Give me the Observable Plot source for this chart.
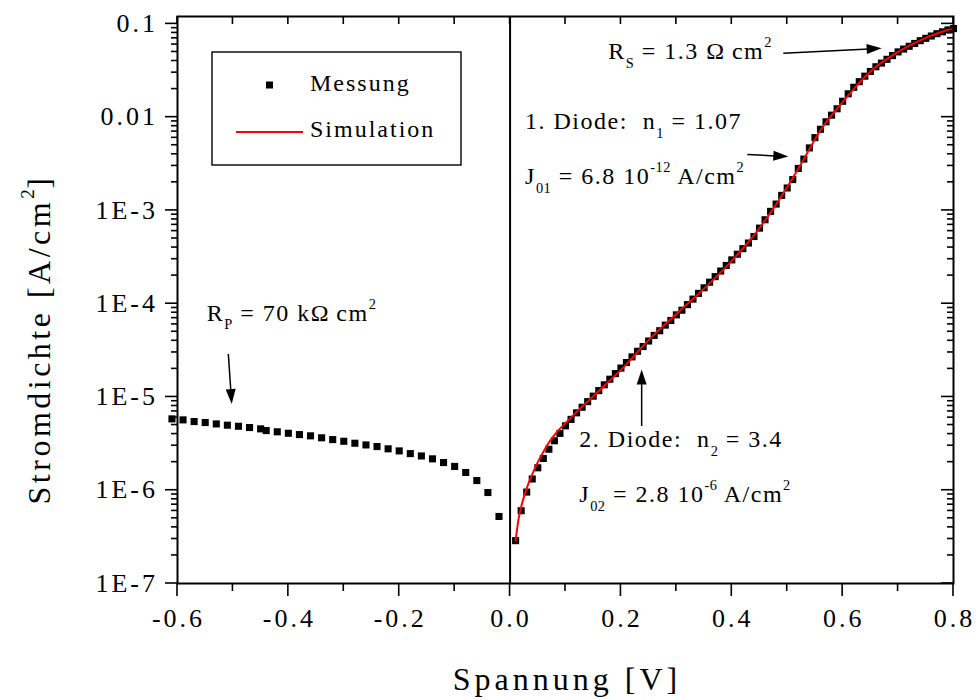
<!DOCTYPE html>
<html>
<head>
<meta charset="utf-8">
<script src="https://cdn.jsdelivr.net/npm/d3@7"></script>
<script src="https://cdn.jsdelivr.net/npm/@observablehq/plot@0.6"></script>
<style>
  body { margin: 0; background: #fff; }
  #chart svg { display: block; background: #fff; }
</style>
</head>
<body>
<div id="chart"></div>
<script>
// Dark I–V characteristic of a solar cell: measured current density (squares)
// and two-diode model fit (red line).

// Reverse bias branch (absolute current density)
const reverseVoltage = [-0.61, -0.59, -0.57, -0.55, -0.53, -0.51, -0.49, -0.47, -0.45, -0.44,
  -0.42, -0.40, -0.38, -0.36, -0.34, -0.32, -0.30, -0.28, -0.26, -0.24,
  -0.22, -0.20, -0.18, -0.16, -0.14, -0.12, -0.10, -0.08, -0.06, -0.04, -0.02];
const reverseCurrent = [5.82e-6, 5.68e-6, 5.45e-6, 5.32e-6, 5.14e-6, 4.98e-6, 4.85e-6, 4.70e-6, 4.55e-6, 4.36e-6,
  4.23e-6, 4.08e-6, 3.95e-6, 3.83e-6, 3.65e-6, 3.49e-6, 3.35e-6, 3.19e-6, 3.06e-6, 2.94e-6,
  2.78e-6, 2.64e-6, 2.47e-6, 2.33e-6, 2.17e-6, 1.98e-6, 1.80e-6, 1.55e-6, 1.27e-6, 9.45e-7, 5.23e-7];

// Forward bias branch
const forwardVoltage = [0.01, 0.02, 0.03, 0.04, 0.05, 0.06, 0.07, 0.08, 0.09, 0.10,
  0.11, 0.12, 0.13, 0.14, 0.15, 0.16, 0.17, 0.18, 0.19, 0.20,
  0.21, 0.22, 0.23, 0.24, 0.25, 0.26, 0.27, 0.28, 0.29, 0.30,
  0.31, 0.32, 0.33, 0.34, 0.35, 0.36, 0.37, 0.38, 0.39, 0.40,
  0.41, 0.42, 0.43, 0.44, 0.45, 0.46, 0.47, 0.48, 0.49, 0.50,
  0.51, 0.52, 0.53, 0.54, 0.55, 0.56, 0.57, 0.58, 0.59, 0.60,
  0.61, 0.62, 0.63, 0.64, 0.65, 0.66, 0.67, 0.68, 0.69, 0.70,
  0.71, 0.72, 0.73, 0.74, 0.75, 0.76, 0.77, 0.78, 0.79, 0.80];
const forwardCurrent = [2.88e-7, 6.03e-7, 9.55e-7, 1.32e-6, 1.74e-6, 2.19e-6, 2.75e-6, 3.39e-6, 4.07e-6, 4.90e-6,
  5.75e-6, 6.76e-6, 7.76e-6, 8.91e-6, 1.02e-5, 1.17e-5, 1.35e-5, 1.55e-5, 1.78e-5, 2.04e-5,
  2.34e-5, 2.69e-5, 3.09e-5, 3.47e-5, 3.98e-5, 4.57e-5, 5.13e-5, 5.89e-5, 6.61e-5, 7.59e-5,
  8.51e-5, 9.77e-5, 1.12e-4, 1.29e-4, 1.48e-4, 1.70e-4, 1.95e-4, 2.24e-4, 2.57e-4, 2.95e-4,
  3.39e-4, 3.89e-4, 4.47e-4, 5.25e-4, 6.46e-4, 7.94e-4, 9.77e-4, 1.17e-3, 1.45e-3, 1.74e-3,
  2.14e-3, 2.82e-3, 3.55e-3, 4.68e-3, 6.03e-3, 7.41e-3, 8.91e-3, 1.05e-2, 1.23e-2, 1.48e-2,
  1.78e-2, 2.09e-2, 2.40e-2, 2.75e-2, 3.09e-2, 3.47e-2, 3.80e-2, 4.17e-2, 4.57e-2, 5.01e-2,
  5.37e-2, 5.75e-2, 6.17e-2, 6.61e-2, 7.00e-2, 7.41e-2, 7.85e-2, 8.22e-2, 8.61e-2, 8.91e-2];

// Two-diode simulation
const simVoltage = [0.01, 0.015, 0.02, 0.03, 0.04, 0.05, 0.06, 0.07, 0.08, 0.09,
  0.10, 0.12, 0.14, 0.17, 0.20, 0.25, 0.30, 0.35, 0.40, 0.45,
  0.50, 0.53, 0.56, 0.60, 0.65, 0.70, 0.75, 0.80];
const simCurrent = [2.88e-7, 4.79e-7, 6.61e-7, 1.05e-6, 1.48e-6, 2.00e-6, 2.57e-6, 3.24e-6, 3.89e-6, 4.57e-6,
  5.25e-6, 6.92e-6, 8.91e-6, 1.32e-5, 1.95e-5, 4.07e-5, 7.76e-5, 1.45e-4, 2.88e-4, 6.46e-4,
  1.78e-3, 3.55e-3, 7.24e-3, 1.45e-2, 3.09e-2, 5.01e-2, 7.08e-2, 9.02e-2];

// Axis ticks
const xTicks = [-0.6, -0.4, -0.2, 0.0, 0.2, 0.4, 0.6, 0.8];
const xTickLabels = ["-0.6", "-0.4", "-0.2", "0.0", "0.2", "0.4", "0.6", "0.8"];
const xMinorTicks = [-0.5, -0.3, -0.1, 0.1, 0.3, 0.5, 0.7];
const yTicks = [1e-7, 1e-6, 1e-5, 1e-4, 1e-3, 1e-2, 1e-1];
const yTickLabels = ["1E-7", "1E-6", "1E-5", "1E-4", "1E-3", "0.01", "0.1"];

const xTitle = "Spannung [V]";
const yTitleParts = [["Stromdichte [A/cm"], ["2", "sup"], ["]"]];
const legendLabels = ["Messung", "Simulation"];

// Fit-parameter annotations (anchored in data coordinates)
const notes = [
  {x: 0.178, y: 0.0415, parts: [["R"], ["S", "sub"], [" = 1.3 Ω\u2009cm"], ["2", "sup"]]},
  {x: 0.0279, y: 7.38e-3, parts: [["1. Diode:  n"], ["1", "sub"], [" = 1.07"]]},
  {x: 0.0279, y: 1.90e-3, parts: [["J"], ["01", "sub"], [" = 6.8 10"], ["-12", "sup"], [" A/cm"], ["2", "sup"]]},
  {x: -0.5465, y: 6.5e-5, parts: [["R"], ["P", "sub"], [" = 70 kΩ\u2009cm"], ["2", "sup"]]},
  {x: 0.1258, y: 2.85e-6, parts: [["2. Diode:  n"], ["2", "sub"], [" = 3.4"]]},
  {x: 0.1258, y: 7.33e-7, parts: [["J"], ["02", "sub"], [" = 2.8 10"], ["-6", "sup"], [" A/cm"], ["2", "sup"]]}
];
const arrows = [
  {x1: 0.4938, y1: 0.0478, x2: 0.6713, y2: 0.0541},
  {x1: 0.4289, y1: 3.94e-3, x2: 0.5029, y2: 3.73e-3},
  {x1: -0.5074, y1: 2.85e-5, x2: -0.5013, y2: 8.30e-6},
  {x1: 0.2383, y1: 4.82e-6, x2: 0.2383, y2: 1.95e-5}
];

const measured = [
  ...reverseVoltage.map((v, i) => ({v, j: reverseCurrent[i]})),
  ...forwardVoltage.map((v, i) => ({v, j: forwardCurrent[i]}))
];
const simulated = simVoltage.map((v, i) => ({v, j: simCurrent[i]}));

const SERIF = '"Liberation Serif", "Times New Roman", serif';

// Append text made of normal / subscript / superscript runs as tspans.
function richText(text, parts, fs, ls) {
  let shift = 0;
  for (const [t, role] of parts) {
    const target = role === "sub" ? 0.36 * fs : role === "sup" ? -0.5 * fs : 0;
    text.append("tspan")
      .attr("dy", target - shift)
      .attr("font-size", role ? 0.6 * fs : fs)
      .attr("letter-spacing", role ? 0.5 : ls)
      .text(t);
    shift = target;
  }
}

// Frame ticks, tick labels and axis titles
function axesMark(index, scales, values, dim) {
  const {x, y} = scales;
  const left = dim.marginLeft, right = dim.width - dim.marginRight;
  const top = dim.marginTop, bottom = dim.height - dim.marginBottom;
  const g = d3.create("svg:g");
  const ticks = g.append("g").attr("stroke", "#000").attr("stroke-width", 1.6).attr("fill", "none");
  const line = (x1, y1, x2, y2) => ticks.append("line").attr("x1", x1).attr("y1", y1).attr("x2", x2).attr("y2", y2);

  for (const v of xTicks) { line(x(v), bottom, x(v), bottom + 13); line(x(v), top, x(v), top + 8); }
  for (const v of xMinorTicks) { line(x(v), bottom, x(v), bottom + 8); line(x(v), top, x(v), top + 8); }

  for (let e = -7; e <= -1; e++) {
    const d = Math.pow(10, e);
    line(left - 12, y(d), left, y(d));
    line(right - 12, y(d), right, y(d));
    for (let k = 2; k <= 9; k++) {
      const m = k * d;
      if (m > 0.12) continue;
      line(left - 6, y(m), left, y(m));
      line(right - 6, y(m), right, y(m));
    }
  }

  const labels = g.append("g").attr("font-family", SERIF).attr("fill", "#000");
  const fs = 26, ls = 3;
  xTicks.forEach((v, i) => {
    labels.append("text").attr("x", x(v) + ls / 2).attr("y", bottom + 44)
      .attr("text-anchor", "middle").attr("font-size", fs).attr("letter-spacing", ls)
      .text(xTickLabels[i]);
  });
  yTicks.forEach((v, i) => {
    labels.append("text").attr("x", left - 22 + ls).attr("y", y(v)).attr("dy", "0.33em")
      .attr("text-anchor", "end").attr("font-size", fs).attr("letter-spacing", ls)
      .text(yTickLabels[i]);
  });

  labels.append("text").attr("x", (left + right) / 2 + 2).attr("y", dim.height - 10)
    .attr("text-anchor", "middle").attr("font-size", 32).attr("letter-spacing", 4)
    .text(xTitle);
  const yt = labels.append("text").attr("transform", `translate(50,${(top + bottom) / 2 + 40}) rotate(-90)`)
    .attr("text-anchor", "middle").attr("font-size", 32).attr("letter-spacing", 3.5);
  richText(yt, yTitleParts, 32, 3.5);
  return g.node();
}

// Parameter labels with arrows
function notesMark(index, {x, y}) {
  const g = d3.create("svg:g").attr("font-family", SERIF).attr("fill", "#000").attr("text-anchor", "start");
  for (const n of notes) {
    const t = g.append("text").attr("x", x(n.x)).attr("y", y(n.y)).attr("dy", "0.32em")
      .attr("text-anchor", "start").attr("font-size", 24).style("white-space", "pre");
    richText(t, n.parts, 24, 1.5);
  }
  for (const a of arrows) {
    const px1 = x(a.x1), py1 = y(a.y1), px2 = x(a.x2), py2 = y(a.y2);
    const ang = Math.atan2(py2 - py1, px2 - px1);
    const L = 15, Wd = 5;
    const bx = px2 - L * Math.cos(ang), by = py2 - L * Math.sin(ang);
    g.append("line").attr("x1", px1).attr("y1", py1).attr("x2", bx + 2 * Math.cos(ang)).attr("y2", by + 2 * Math.sin(ang))
      .attr("stroke", "#000").attr("stroke-width", 1.5);
    const nx = -Math.sin(ang), ny = Math.cos(ang);
    g.append("path")
      .attr("d", `M${px2},${py2}L${bx + Wd * nx},${by + Wd * ny}L${bx - Wd * nx},${by - Wd * ny}Z`)
      .attr("fill", "#000");
  }
  return g.node();
}

// Legend box in the upper left of the frame
function legendMark(index, scales, values, dim) {
  const bx = dim.marginLeft + 35, by = dim.marginTop + 36;
  const g = d3.create("svg:g").attr("font-family", SERIF).attr("text-anchor", "start");
  g.append("rect").attr("x", bx).attr("y", by).attr("width", 249).attr("height", 113)
    .attr("fill", "#fff").attr("stroke", "#000").attr("stroke-width", 1.4);
  g.append("rect").attr("x", bx + 54).attr("y", by + 29.5).attr("width", 7).attr("height", 7).attr("fill", "#000");
  g.append("line").attr("x1", bx + 24).attr("x2", bx + 91).attr("y1", by + 80).attr("y2", by + 80)
    .attr("stroke", "#ff0000").attr("stroke-width", 2);
  g.append("text").attr("x", bx + 98).attr("y", by + 38.5).attr("font-size", 24).attr("letter-spacing", 2)
    .text(legendLabels[0]);
  g.append("text").attr("x", bx + 98).attr("y", by + 85).attr("font-size", 24).attr("letter-spacing", 2)
    .text(legendLabels[1]);
  return g.node();
}

const chart = Plot.plot({
  width: 976,
  height: 700,
  marginLeft: 177,
  marginRight: 23,
  marginTop: 16,
  marginBottom: 117,
  style: {background: "#fff", fontFamily: SERIF},
  x: {domain: [-0.6, 0.8], axis: null},
  y: {type: "log", domain: [1e-7, 0.12], axis: null},
  marks: [
    Plot.ruleX([0], {stroke: "#000", strokeWidth: 2}),
    Plot.dot(measured, {x: "v", y: "j", symbol: "square", r: 4, fill: "#000", stroke: null}),
    Plot.line(simulated, {x: "v", y: "j", stroke: "#ff0000", strokeWidth: 2, curve: "monotone-x"}),
    Plot.frame({stroke: "#000", strokeWidth: 2}),
    axesMark,
    legendMark,
    notesMark
  ]
});
document.getElementById("chart").append(chart);
</script>
</body>
</html>
